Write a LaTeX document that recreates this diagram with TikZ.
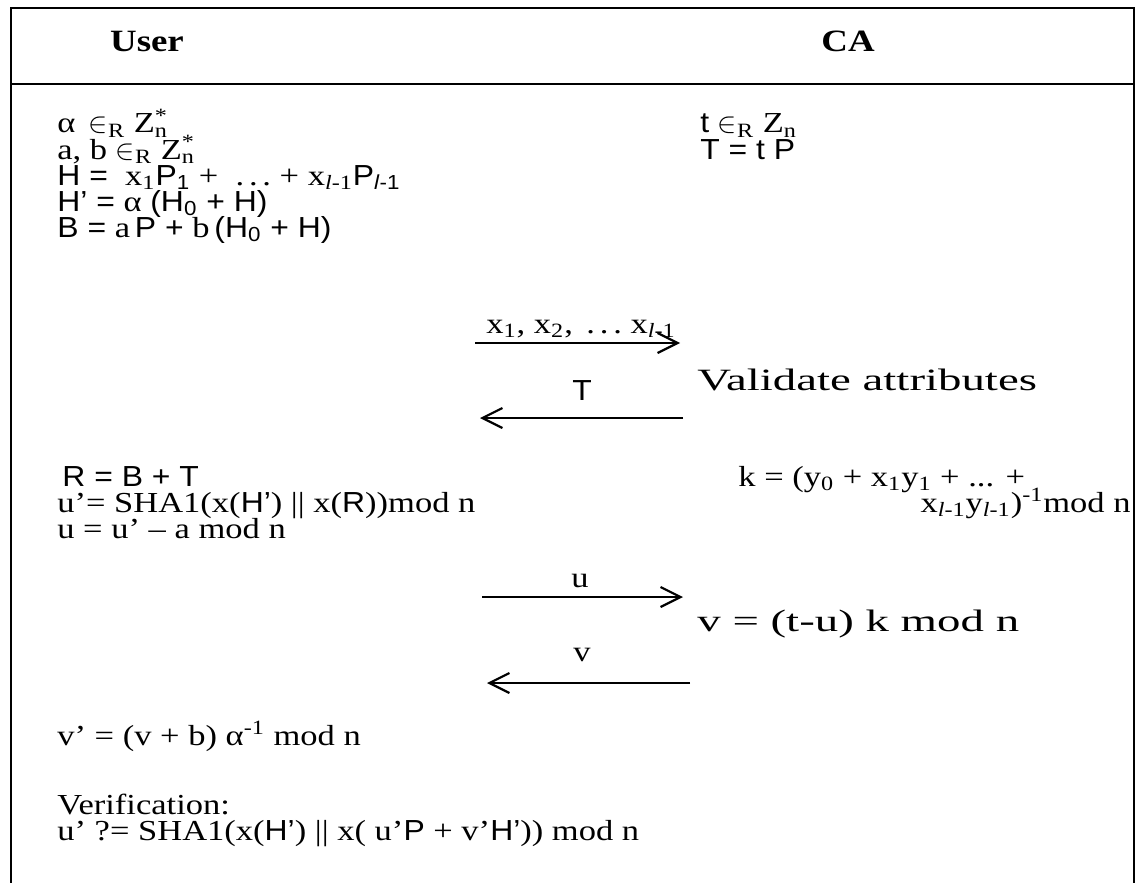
\documentclass[tikz,border=0pt]{standalone}
\usepackage{fontspec}
\setmainfont{Liberation Serif}[FakeStretch=1.19]
\setsansfont{Liberation Sans}[FakeStretch=1.1]
\usetikzlibrary{arrows.meta}

\newcommand{\sv}[1]{{\sffamily #1}}
\newcommand{\lm}{\textit{l}-1}
\newcommand{\Zn}{Z\rlap{\textsuperscript{*}}\textsubscript{n}}
\newcommand{\wide}[1]{\scalebox{1.27}[1]{#1}}

\begin{document}
\begin{tikzpicture}[x=0.5pt,y=-0.5pt,
    txt/.style={anchor=base west,inner sep=0pt,font=\fontsize{14.5}{14.5}\selectfont},
    big/.style={txt,font=\fontsize{15.5}{15.5}\selectfont},
    hdr/.style={anchor=base,inner sep=0pt,font=\fontsize{15.5}{15.5}\selectfont\bfseries},
    lbl/.style={anchor=base,inner sep=0pt,font=\fontsize{14.5}{14.5}\selectfont},
    msg/.style={line width=1.1pt,-{Straight Barb[length=10pt,width=10pt]}}]
  \useasboundingbox (0,0) rectangle (1140,883);
  % frame and header
  \draw[line width=1pt] (11,883) -- (11,8) -- (1134,8) -- (1134,883);
  \draw[line width=1pt] (11,84) -- (1134,84);
  \node[hdr] (user) at (147,52) {User};
  \node[hdr] (ca) at (848,52) {CA};

  % user, first step
  \node[txt] (alpha) at (57,133) {α\ \,$\in$\textsubscript{R} \Zn};
  \node[txt] (ab) at (57,159) {a, b $\in$\textsubscript{R} \Zn};
  \node[txt] (hsum) at (57,185) {\sv{H =}\ \ x\textsubscript{1}\sv{P\textsubscript{1}} + \ .\,.\,.\ + x\textsubscript{\lm}\sv{P\textsubscript{\lm}}};
  \node[txt] (hprime) at (57,211) {\sv{H’ =} α \sv{(H\textsubscript{0} + H)}};
  \node[txt] (bval) at (57,237) {\sv{B =} a\,\sv{P +} b\,\sv{(H\textsubscript{0} + H)}};

  % ca, first step
  \node[txt] (tpick) at (700,133) {\sv{t} $\in$\textsubscript{R} Z\textsubscript{n}};
  \node[txt] (tval) at (700,159) {\sv{T = t P}};

  \coordinate (m1a) at (475,343);
  \coordinate (m1b) at (680,343);
  \draw[msg] (m1a) -- (m1b);
  \node[lbl] (m1l) at (581,333) {x\textsubscript{1}, x\textsubscript{2}, \,.\,.\,.\ x\textsubscript{\lm}};
  \node[big] (valid) at (697,390) {\wide{Validate attributes}};

  \coordinate (m2a) at (683,418);
  \coordinate (m2b) at (480,418);
  \draw[msg] (m2a) -- (m2b);
  \node[lbl] (m2l) at (582,400) {\sv{T}};

  % user, second step
  \node[txt] (rval) at (62,486) {\sv{R = B + T}};
  \node[txt] (uprime) at (57,512) {u’= SHA1(x(\sv{H’}) || x(\sv{R}))mod n};
  \node[txt] (uval) at (57,538) {u = u’ – a mod n};

  % ca, second step
  \node[txt] (kval) at (738,486) {k = (y\textsubscript{0} + x\textsubscript{1}y\textsubscript{1} + ... +};
  \node[txt,anchor=base east] (kval2) at (1131,512) {x\textsubscript{\lm}y\textsubscript{\lm})\textsuperscript{-1}mod n};

  \coordinate (m3a) at (482,597);
  \coordinate (m3b) at (683,597);
  \draw[msg] (m3a) -- (m3b);
  \node[lbl] (m3l) at (580,587) {u};
  \node[big] (vval) at (697,631) {\wide{v = (t-u) k mod n}};

  \coordinate (m4a) at (690,683);
  \coordinate (m4b) at (487,683);
  \draw[msg] (m4a) -- (m4b);
  \node[lbl] (m4l) at (582,661) {v};

  % unblinding and check
  \node[txt] (vprime) at (57,745) {v’ = (v + b) α\textsuperscript{-1} mod n};
  \node[txt] (verif) at (57,814) {Verification:};
  \node[txt] (check) at (57,840) {u’ ?= SHA1(x(\sv{H’}) || x( u’\sv{P} + v’\sv{H’})) mod n};
\end{tikzpicture}
\end{document}
